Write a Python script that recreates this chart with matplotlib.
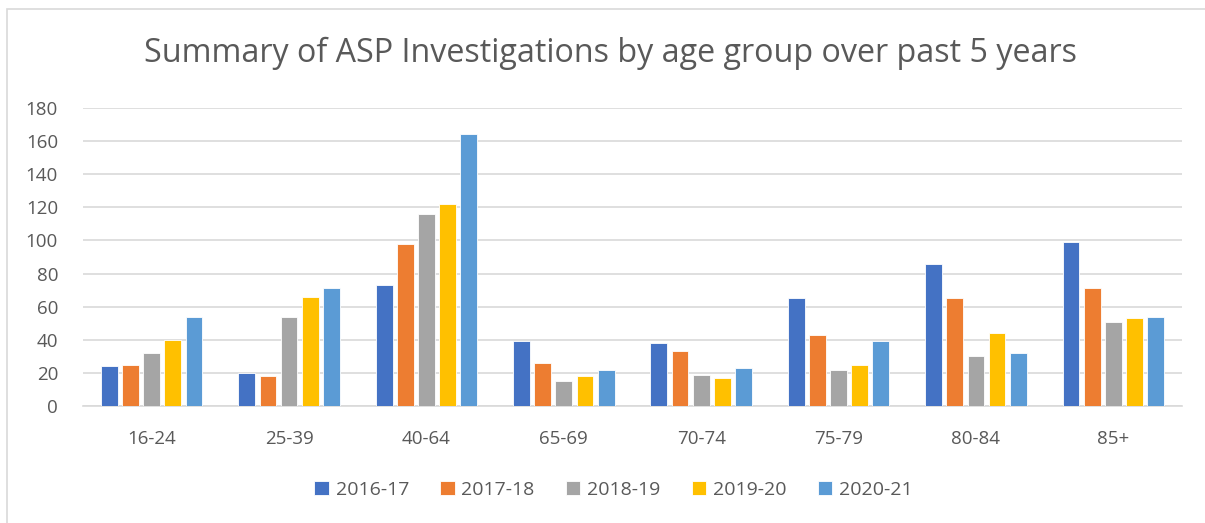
#! /usr/bin/env python3

import numpy as np
import matplotlib
matplotlib.use("Agg")
import matplotlib.pyplot as plt
from matplotlib.patches import Rectangle

# age groups on the x axis
age_groups = ["16-24", "25-39", "40-64", "65-69", "70-74", "75-79", "80-84", "85+"]

# investigations per year
y2016_17 = [24, 20, 73, 39, 38, 65, 86, 99]
y2017_18 = [25, 18, 98, 26, 33, 43, 65, 71]
y2018_19 = [32, 54, 116, 15, 19, 22, 30, 51]
y2019_20 = [40, 66, 122, 18, 17, 25, 44, 53]
y2020_21 = [54, 71, 164, 22, 23, 39, 32, 54]

years = ["2016-17", "2017-18", "2018-19", "2019-20", "2020-21"]
series = [y2016_17, y2017_18, y2018_19, y2019_20, y2020_21]
colours = ["#4472C4", "#ED7D31", "#A5A5A5", "#FFC000", "#5B9BD5"]

yticks = list(range(0, 181, 20))

plt.rcParams["font.family"] = ["Open Sans", "DejaVu Sans"]
txt = "#595959"
grid = "#D9D9D9"

fig = plt.figure(figsize=(12.05, 5.23), dpi=100)
ax = fig.add_axes([83 / 1205, 1 - 406 / 523, (1182 - 83) / 1205, (406 - 108) / 523])

# outer chart border (cropped at right and bottom)
fig.patches.append(Rectangle((6.5 / 1205, -0.1), 1.2, 1 - 8.5 / 523 + 0.1,
                             transform=fig.transFigure, fill=False,
                             edgecolor=grid, linewidth=1.2))

x = np.arange(len(age_groups))
pitch = 0.154
width = 0.122
for i, (vals, col, lab) in enumerate(zip(series, colours, years)):
    ax.bar(x + (i - 2) * pitch, vals, width=width, color=col, label=lab,
           edgecolor="white", linewidth=0.6, zorder=3)

ax.set_xlim(-0.5, len(age_groups) - 0.5)
ax.set_ylim(0, 180)
ax.set_yticks(yticks)
ax.set_xticks(x)
ax.set_xticklabels(age_groups)
ax.yaxis.grid(True, color=grid, linewidth=1.2, zorder=0)
ax.tick_params(axis="both", length=0, labelsize=13.5, colors=txt)
ax.tick_params(axis="x", pad=17)
ax.tick_params(axis="y", pad=18)
for s in ["top", "right", "left"]:
    ax.spines[s].set_visible(False)
ax.spines["bottom"].set_color(grid)
ax.spines["bottom"].set_linewidth(1.2)

fig.text(0.5065, 0.897, "Summary of ASP Investigations by age group over past 5 years",
         ha="center", va="center", fontsize=23.2, color=txt)

fig.legend(loc="center", bbox_to_anchor=(0.509, 0.063), ncol=5, frameon=False,
           fontsize=14, labelcolor=txt, handlelength=0.75, handleheight=0.75,
           handletextpad=0.35, columnspacing=1.6)

fig.savefig("out.png", dpi=100)
